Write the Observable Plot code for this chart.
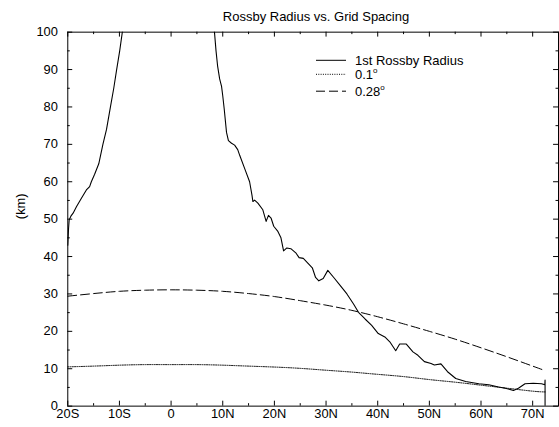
<!DOCTYPE html>
<html>
<head>
<meta charset="utf-8">
<script src="https://cdn.jsdelivr.net/npm/d3@7"></script>
<script src="https://cdn.jsdelivr.net/npm/@observablehq/plot@0.6"></script>
<style>
html, body { margin: 0; padding: 0; background: #fff; overflow: hidden; }
#wrap { position: relative; width: 559px; height: 427px; overflow: hidden; font-family: "Liberation Sans", Arial, sans-serif; }
#wrap > svg.overlay { position: absolute; left: 0; top: 0; pointer-events: none; }
#chart { position: absolute; left: 0; top: 0; }
</style>
</head>
<body>
<div id="wrap"><div id="chart"></div></div>
<script>
// ---- data ----
const titleText = "Rossby Radius vs. Grid Spacing";
const yLabel = "(km)";

// 1st Rossby radius (km) vs latitude (deg, S negative); NaN breaks the line at the equator
const rossbyLat = [
  -20, -19.85, -19.73, -19.4, -18.97, -18.3, -17.36, -16.4, -15.77, -15.44, -14.8, -14.0, -13.2, -12.5, -11.74, -11.1, -10.54, -9.95, -9.39,
  NaN,
  8.37, 8.7, 9.0, 9.4, 9.77, 10.0, 10.29, 10.73, 11.1, 11.7, 12.3, 12.9, 13.3, 14.25, 15.2, 15.65, 15.84, 16.17, 16.8, 17.76,
  18.4, 18.85, 19.35, 19.87, 20.63, 21.27, 21.78, 22.41, 23.18, 24.14, 24.78, 25.6, 26.38, 27.34, 27.97, 28.6, 29.45,
  30.34, 31.49, 32.76, 34.04, 35.32, 36.28, 37.55, 38.83, 40.11, 41.38, 42.34, 43.49, 44.25, 45.54, 46.82, 47.78,
  49.04, 50.33, 50.96, 52.24, 53.52, 55.11, 57.03, 59.58, 61.5, 63.4, 64.7, 66.28, 67.24, 68.52, 70.11, 71.72, 72.35, 72.4, 72.4
];
const rossbyKm = [
  43, 47.5, 49.8, 50.8, 51.6, 53.4, 55.6, 57.8, 58.7, 60.0, 62.0, 64.8, 70.0, 74.0, 80.0, 85.0, 90.0, 95.0, 100.5,
  NaN,
  100.5, 95, 91, 87.5, 85.5, 83, 79.4, 73.2, 71, 70.3, 69.8, 68.6, 67.0, 63.5, 60.0, 56.5, 54.7, 55.1, 54.3, 52.5,
  49.4, 51.0, 50.3, 48.1, 46.8, 45.0, 41.5, 42.3, 42.1, 41.0, 39.7, 39.5, 38.4, 37.0, 34.4, 33.5, 34.1,
  36.3, 34.4, 32.2, 30.0, 27.3, 25.1, 23.3, 21.6, 19.4, 18.5, 17.2, 14.8, 16.6, 16.6, 14.5, 13.6,
  11.9, 11.4, 11.0, 11.3, 9.2, 7.4, 6.6, 6.0, 5.7, 5.1, 4.8, 4.2, 4.8, 6.0, 6.1, 6.0, 5.7, 7.0, 0
];

// grid spacing curves (km)
const gridLat   = [-20, -15, -10, -5, 0, 5, 10, 15, 20, 25, 30, 35, 40, 45, 50, 55, 60, 65, 70, 72.4];
const grid01Km  = [10.5, 10.7, 10.95, 11.1, 11.1, 11.1, 10.95, 10.7, 10.45, 10.1, 9.6, 9.1, 8.5, 7.9, 7.1, 6.4, 5.6, 4.8, 4.0, 3.8];
const grid028Km = [29.4, 30.1, 30.7, 31.0, 31.1, 31.0, 30.7, 30.1, 29.3, 28.2, 27.0, 25.6, 23.9, 22.0, 20.0, 17.9, 15.6, 13.2, 10.7, 9.5];

const legendLabels = ["1st Rossby Radius", "0.1", "0.28"];

const xMajor = [-20, -10, 0, 10, 20, 30, 40, 50, 60, 70];
const xTickLabels = ["20S", "10S", "0", "10N", "20N", "30N", "40N", "50N", "60N", "70N"];
const xMinor = [-15, -5, 5, 15, 25, 35, 45, 55, 65, 75];
const yMajor = [0, 10, 20, 30, 40, 50, 60, 70, 80, 90, 100];
const yMinor = [5, 15, 25, 35, 45, 55, 65, 75, 85, 95];

// ---- layout ----
const W = 565, H = 427, mL = 68, mR = 1, mT = 32, mB = 17;
const innerW = W - mL - mR, innerH = H - mT - mB;
const majorLen = 5, minorLen = 2.5;

const rossby = rossbyLat.map((lat, i) => ({lat, km: rossbyKm[i]}));
const grid = gridLat.map((lat, i) => ({lat, g01: grid01Km[i], g028: grid028Km[i]}));

const chart = Plot.plot({
  width: W, height: H,
  marginLeft: mL, marginRight: mR, marginTop: mT, marginBottom: mB,
  style: {fontFamily: "'Liberation Sans', Arial, sans-serif", fontSize: "13px", color: "black", background: "white"},
  x: {domain: [-20, 75]},
  y: {domain: [0, 100]},
  marks: [
    Plot.axisX(xMajor, {tickSize: 0, tickPadding: 3, tickFormat: d => xTickLabels[xMajor.indexOf(d)], label: null, fontSize: 13}),
    Plot.axisY(yMajor, {tickSize: 0, tickPadding: 10, label: null, fontSize: 13}),
    // inward ticks: bottom & top
    Plot.ruleX(xMajor, {x: d => d, insetTop: innerH - majorLen, stroke: "black"}),
    Plot.ruleX(xMajor, {x: d => d, insetBottom: innerH - majorLen, stroke: "black"}),
    Plot.ruleX(xMinor, {x: d => d, insetTop: innerH - minorLen, stroke: "black"}),
    Plot.ruleX(xMinor, {x: d => d, insetBottom: innerH - minorLen, stroke: "black"}),
    // inward ticks: left & right
    Plot.ruleY(yMajor, {y: d => d, insetRight: innerW - majorLen, stroke: "black"}),
    Plot.ruleY(yMajor, {y: d => d, insetLeft: innerW - majorLen, stroke: "black"}),
    Plot.ruleY(yMinor, {y: d => d, insetRight: innerW - minorLen, stroke: "black"}),
    Plot.ruleY(yMinor, {y: d => d, insetLeft: innerW - minorLen, stroke: "black"}),
    Plot.text([yLabel], {frameAnchor: "left", text: d => d, rotate: -90, dx: -47, lineAnchor: "middle", fontSize: 13}),
    Plot.line(grid, {x: "lat", y: "g01", curve: "natural", stroke: "black", strokeWidth: 1, strokeDasharray: "1,1.3"}),
    Plot.line(grid, {x: "lat", y: "g028", curve: "natural", stroke: "black", strokeWidth: 1, strokeDasharray: "9,4"}),
    Plot.line(rossby, {x: "lat", y: "km", stroke: "black", strokeWidth: 1.1, clip: true}),
    Plot.frame({stroke: "black", strokeWidth: 1})
  ]
});
document.getElementById("chart").appendChild(chart);

// ---- overlay: title and legend ----
const ns = "http://www.w3.org/2000/svg";
const ov = document.createElementNS(ns, "svg");
ov.setAttribute("class", "overlay");
ov.setAttribute("width", 559);
ov.setAttribute("height", 427);
ov.style.fontFamily = "'Liberation Sans', Arial, sans-serif";
function el(tag, attrs, txt) {
  const e = document.createElementNS(ns, tag);
  for (const k in attrs) e.setAttribute(k, attrs[k]);
  if (txt != null) e.textContent = txt;
  ov.appendChild(e);
  return e;
}
el("text", {x: mL + innerW / 2, y: 21, "text-anchor": "middle", "font-size": 13, fill: "black"}, titleText);
const rowsY = [60.3, 74.3, 91.2];
const dashes = [null, "1,1.3", "9,4"];
legendLabels.forEach((lab, i) => {
  const l = el("line", {x1: 316, x2: 346, y1: rowsY[i], y2: rowsY[i], stroke: "black", "stroke-width": 1});
  if (dashes[i]) l.setAttribute("stroke-dasharray", dashes[i]);
  const t = el("text", {x: 355, y: rowsY[i] + 4.6, "font-size": 13, fill: "black"}, lab);
  if (i > 0) {
    const s = document.createElementNS(ns, "tspan");
    s.setAttribute("font-size", 8);
    s.setAttribute("dy", -6);
    s.textContent = "o";
    t.appendChild(s);
  }
});
document.getElementById("wrap").appendChild(ov);
</script>
</body>
</html>
